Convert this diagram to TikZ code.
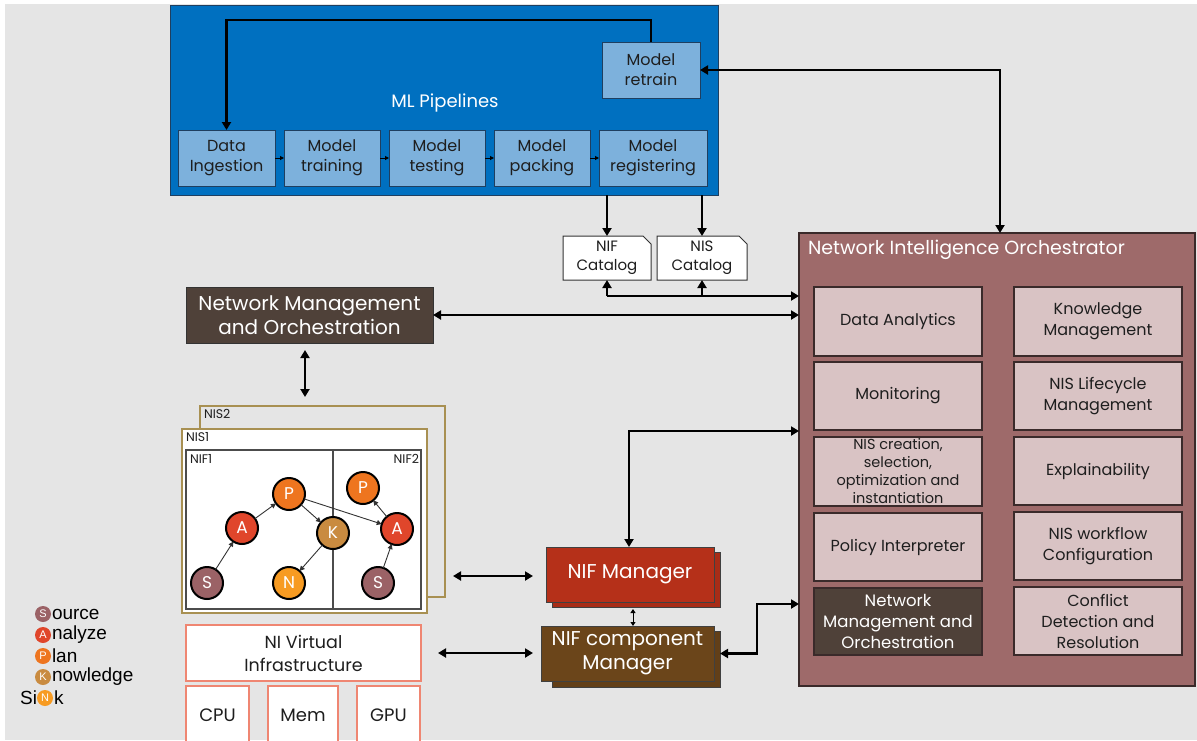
\documentclass[tikz,border=0pt]{standalone}
\usepackage{fontspec}
\setmainfont{Poppins}
\newfontfamily\legendfont{Liberation Sans}
\usetikzlibrary{arrows.meta}

\definecolor{bgc}{HTML}{E5E5E5}
\definecolor{mlblue}{HTML}{0070C0}
\definecolor{mlborder}{HTML}{1F3F60}
\definecolor{stepblue}{HTML}{7DB1DC}
\definecolor{nio}{HTML}{9E6A6A}
\definecolor{niodark}{HTML}{3A2A2A}
\definecolor{pinkbox}{HTML}{D9C3C4}
\definecolor{nmobrown}{HTML}{4F4139}
\definecolor{mgrred}{HTML}{B53019}
\definecolor{cmpbrown}{HTML}{6B451A}
\definecolor{olive}{HTML}{A89052}
\definecolor{salmon}{HTML}{EF8672}
\definecolor{cS}{HTML}{9B6266}
\definecolor{cA}{HTML}{E0462B}
\definecolor{cP}{HTML}{EE751F}
\definecolor{cK}{HTML}{C98B40}
\definecolor{cN}{HTML}{F79B22}
\definecolor{txt}{HTML}{1E1E1E}

\newcommand\fs[2]{\fontsize{#1}{#2}\selectfont}
% box from its top-left (x1,y1) to bottom-right (x2,y2), in pixel units
\newcommand\placebox[7]{%
  \node[#6, anchor=north west, minimum width={#4pt-#2pt}, minimum height={#5pt-#3pt}] (#1) at (#2,#3) {#7};}

\begin{document}
\begin{tikzpicture}[x=1pt,y=-1pt,
  every node/.style={inner sep=0pt, outer sep=0pt},
  dbl/.style={line width=2.2pt, {Triangle[length=8pt,width=9pt]}-{Triangle[length=8pt,width=9pt]}},
  one/.style={line width=2.2pt, -{Triangle[length=8pt,width=9pt]}},
  tiny/.style={line width=1pt, -{Triangle[length=4pt,width=4pt]}},
  graphedge/.style={line width=0.9pt, draw=black!80, -{Triangle[length=5pt,width=5pt]}},
  mlbox/.style={draw=mlborder, line width=1pt, fill=mlblue},
  pbox/.style={draw=mlborder, line width=1pt, fill=stepblue, text=txt, align=center, font=\fs{16}{20}},
  catbox/.style={text=txt, align=center, font=\fs{15}{19}},
  nmobox/.style={draw=black!80, line width=1pt, fill=nmobrown, text=white, align=center, font=\fs{20}{24}},
  innerbox/.style={draw=niodark, line width=1.2pt, fill=pinkbox, text=txt, align=center, font=\fs{16}{21}},
  nisframe/.style={draw=olive, line width=1.3pt},
  redbox/.style={draw=salmon, line width=1.3pt, fill=white, text=txt, align=center, font=\fs{18}{23}},
  mgr/.style={draw=black!75, line width=1pt, fill=mgrred, text=white, align=center, font=\fs{20}{24}},
  cmp/.style={draw=black!75, line width=1pt, fill=cmpbrown, text=white, align=center, font=\fs{20}{24}},
  sap/.style={circle, draw=black, line width=2pt, minimum size=32pt, text=white, font=\fs{17}{20}},
  leg/.style={circle, minimum size=16pt, text=white, font=\legendfont\fs{11}{12}},
  legtext/.style={font=\legendfont\fs{19}{22}, text=black}]

\clip (0,0) rectangle (1197,740);
\fill[white] (0,0) rectangle (1197,740);
\fill[bgc] (5,4) rectangle (1197,740);

% ---------------- ML pipelines ----------------
\placebox{ml}{170}{5}{718}{195}{mlbox}{}
\node[text=white, font=\fs{18}{22}] (mltitle) at (445,103) {ML Pipelines};
\placebox{retrain}{602}{42}{700}{98}{pbox}{Model\\retrain}
\placebox{ingest}{178}{130}{275}{186}{pbox}{Data\\Ingestion}
\placebox{train}{284}{130}{380}{186}{pbox}{Model\\training}
\placebox{test}{389}{130}{485}{186}{pbox}{Model\\testing}
\placebox{pack}{494}{130}{590}{186}{pbox}{Model\\packing}
\placebox{reg}{599}{130}{707}{186}{pbox}{Model\\registering}
\draw[tiny] (ingest) -- (train);
\draw[tiny] (train) -- (test);
\draw[tiny] (test) -- (pack);
\draw[tiny] (pack) -- (reg);
\draw[one] (retrain.north) -- ++(0,-22) -| (ingest.north);

% ---------------- catalogs ----------------
\fill[white, draw=black!80, line width=1pt] (563,236) -- (643,236) -- (651,244) -- (651,280) -- (563,280) -- cycle;
\fill[white, draw=black!80, line width=1pt] (657,236) -- (739,236) -- (747,244) -- (747,280) -- (657,280) -- cycle;
\placebox{nifcat}{563}{236}{651}{280}{catbox}{NIF\\Catalog}
\placebox{niscat}{657}{236}{747}{280}{catbox}{NIS\\Catalog}
\draw[one] (ml.south -| nifcat.north) -- (nifcat.north);
\draw[one] (ml.south -| niscat.north) -- (niscat.north);

% ---------------- Network Intelligence Orchestrator ----------------
\placebox{nio}{799}{233}{1195}{686}{draw=niodark, line width=1.2pt, fill=nio}{}
\node[anchor=west, text=white, font=\fs{19}{22}] (niotitle) at (808,250) {Network Intelligence Orchestrator};
\placebox{da}{814}{287}{982}{356}{innerbox}{Data Analytics}
\placebox{mon}{814}{362}{982}{430}{innerbox}{Monitoring}
\placebox{nisc}{814}{437}{982}{506}{innerbox, font=\fs{14.5}{18}}{NIS creation,\\selection,\\optimization and\\instantiation}
\placebox{pol}{814}{513}{982}{581}{innerbox}{Policy Interpreter}
\placebox{nmoin}{814}{588}{982}{655}{innerbox, fill=nmobrown, text=white, font=\fs{16.5}{21}}{Network\\Management and\\Orchestration}
\placebox{km}{1014}{287}{1182}{356}{innerbox}{Knowledge\\Management}
\placebox{lc}{1014}{362}{1182}{430}{innerbox}{NIS Lifecycle\\Management}
\placebox{xai}{1014}{437}{1182}{505}{innerbox}{Explainability}
\placebox{wf}{1014}{512}{1182}{580}{innerbox}{NIS workflow\\Configuration}
\placebox{cdr}{1014}{587}{1182}{655}{innerbox}{Conflict\\Detection and\\Resolution}

\coordinate (nioin) at (1000,0);
\draw[dbl] (retrain.east) -| (nio.north -| nioin);
\coordinate (bus) at (700,296);
\draw[one] (nifcat.south |- bus) -- (nio.west |- bus);
\draw[one] (nifcat.south |- bus) -- (nifcat.south);
\draw[one] (niscat.south |- bus) -- (niscat.south);

% ---------------- Network Management and Orchestration ----------------
\placebox{nmo}{186}{287}{433}{343}{nmobox}{Network Management\\and Orchestration}
\draw[dbl] (nmo.east) -- (nio.west |- nmo.east);

% ---------------- network intelligence slices ----------------
\placebox{nis2}{200}{406}{445}{597}{nisframe, fill=bgc}{}
\node[anchor=north west, font=\fs{12.5}{14}, text=txt] (nis2lbl) at (204,409) {NIS2};
\placebox{nis1}{182}{429}{427}{613}{nisframe, fill=white}{}
\node[anchor=north west, font=\fs{12.5}{14}, text=txt] (nis1lbl) at (186,432) {NIS1};
\placebox{nif}{186}{450}{421}{609}{draw=black!70, line width=1.2pt}{}
\coordinate (div) at (333,0);
\draw[black!70, line width=1.2pt] (nif.north -| div) -- (nif.south -| div);
\node[anchor=north west, font=\fs{12.5}{14}, text=txt] (nif1lbl) at (190,454) {NIF1};
\node[anchor=north east, font=\fs{12.5}{14}, text=txt] (nif2lbl) at (419,454) {NIF2};

\node[sap, fill=cP] (p1) at (289,494) {P};
\node[sap, fill=cA] (a1) at (242,528) {A};
\node[sap, fill=cK] (k1) at (333,533) {K};
\node[sap, fill=cS] (s1) at (207,583) {S};
\node[sap, fill=cN] (n1) at (289,583) {N};
\node[sap, fill=cP] (p2) at (363,488) {P};
\node[sap, fill=cA] (a2) at (397,529) {A};
\node[sap, fill=cS] (s2) at (378,583) {S};
\draw[graphedge] (s1) -- (a1);
\draw[graphedge] (a1) -- (p1);
\draw[graphedge] (p1) -- (k1);
\draw[graphedge] (p1) -- (a2);
\draw[graphedge] (k1) -- (n1);
\draw[graphedge] (s2) -- (a2);
\draw[graphedge] (a2) -- (p2);

\coordinate (nmodown) at (305,0);
\draw[dbl, shorten <=7pt, shorten >=9pt] (nmo.south -| nmodown) -- (nis2.north -| nmodown);

% ---------------- virtual infrastructure ----------------
\placebox{nivi}{186}{625}{421}{681}{redbox, font=\fs{17.5}{23}}{NI Virtual\\Infrastructure}
\placebox{cpu}{186}{686}{249}{744}{redbox}{CPU}
\placebox{mem}{268}{686}{338}{744}{redbox}{Mem}
\placebox{gpu}{357}{686}{420}{744}{redbox}{GPU}

% ---------------- managers ----------------
\placebox{mgrS}{552}{552}{720}{607}{mgr, fill=mgrred!92!black}{}
\placebox{mgr}{546}{547}{714}{602}{mgr}{NIF Manager}
\placebox{cmpS}{552}{631}{720}{687}{cmp, fill=cmpbrown!92!black}{}
\placebox{cmp}{541}{626}{714}{681}{cmp}{NIF component\\Manager}

\coordinate (nisout) at (453,576);
\draw[dbl, shorten >=13pt] (nisout) -- (mgr.west |- nisout);
\draw[dbl, shorten <=17pt, shorten >=8pt] (nivi.east) -- (cmp.west |- nivi.east);
\coordinate (midc) at (633,0);
\draw[line width=1pt, {Triangle[length=4pt,width=5pt]}-{Triangle[length=4pt,width=5pt]}, shorten <=2pt] (mgrS.south -| midc) -- (cmp.north -| midc);
\coordinate (j1) at (629,431);
\draw[dbl] (mgr.north -| j1) |- (nio.west |- j1);
\coordinate (j2) at (757,604);
\draw[dbl] (cmp.east -| cmpS.east) -| (j2) -- (nio.west |- j2);

% ---------------- legend ----------------
\node[leg, fill=cS] (lS) at (43,614) {S};
\node[legtext, anchor=west] (tS) at (52,614) {ource};
\node[leg, fill=cA] (lA) at (43,635) {A};
\node[legtext, anchor=west] (tA) at (52,635) {nalyze};
\node[leg, fill=cP] (lP) at (43,656) {P};
\node[legtext, anchor=west] (tP) at (52,656) {lan};
\node[leg, fill=cK] (lK) at (43,677) {K};
\node[legtext, anchor=west] (tK) at (52,677) {nowledge};
\node[leg, fill=cN] (lN) at (45,698) {N};
\node[legtext, anchor=east] (tSi) at (37,698) {Si};
\node[legtext, anchor=west] (tk) at (54,698) {k};
\end{tikzpicture}
\end{document}
